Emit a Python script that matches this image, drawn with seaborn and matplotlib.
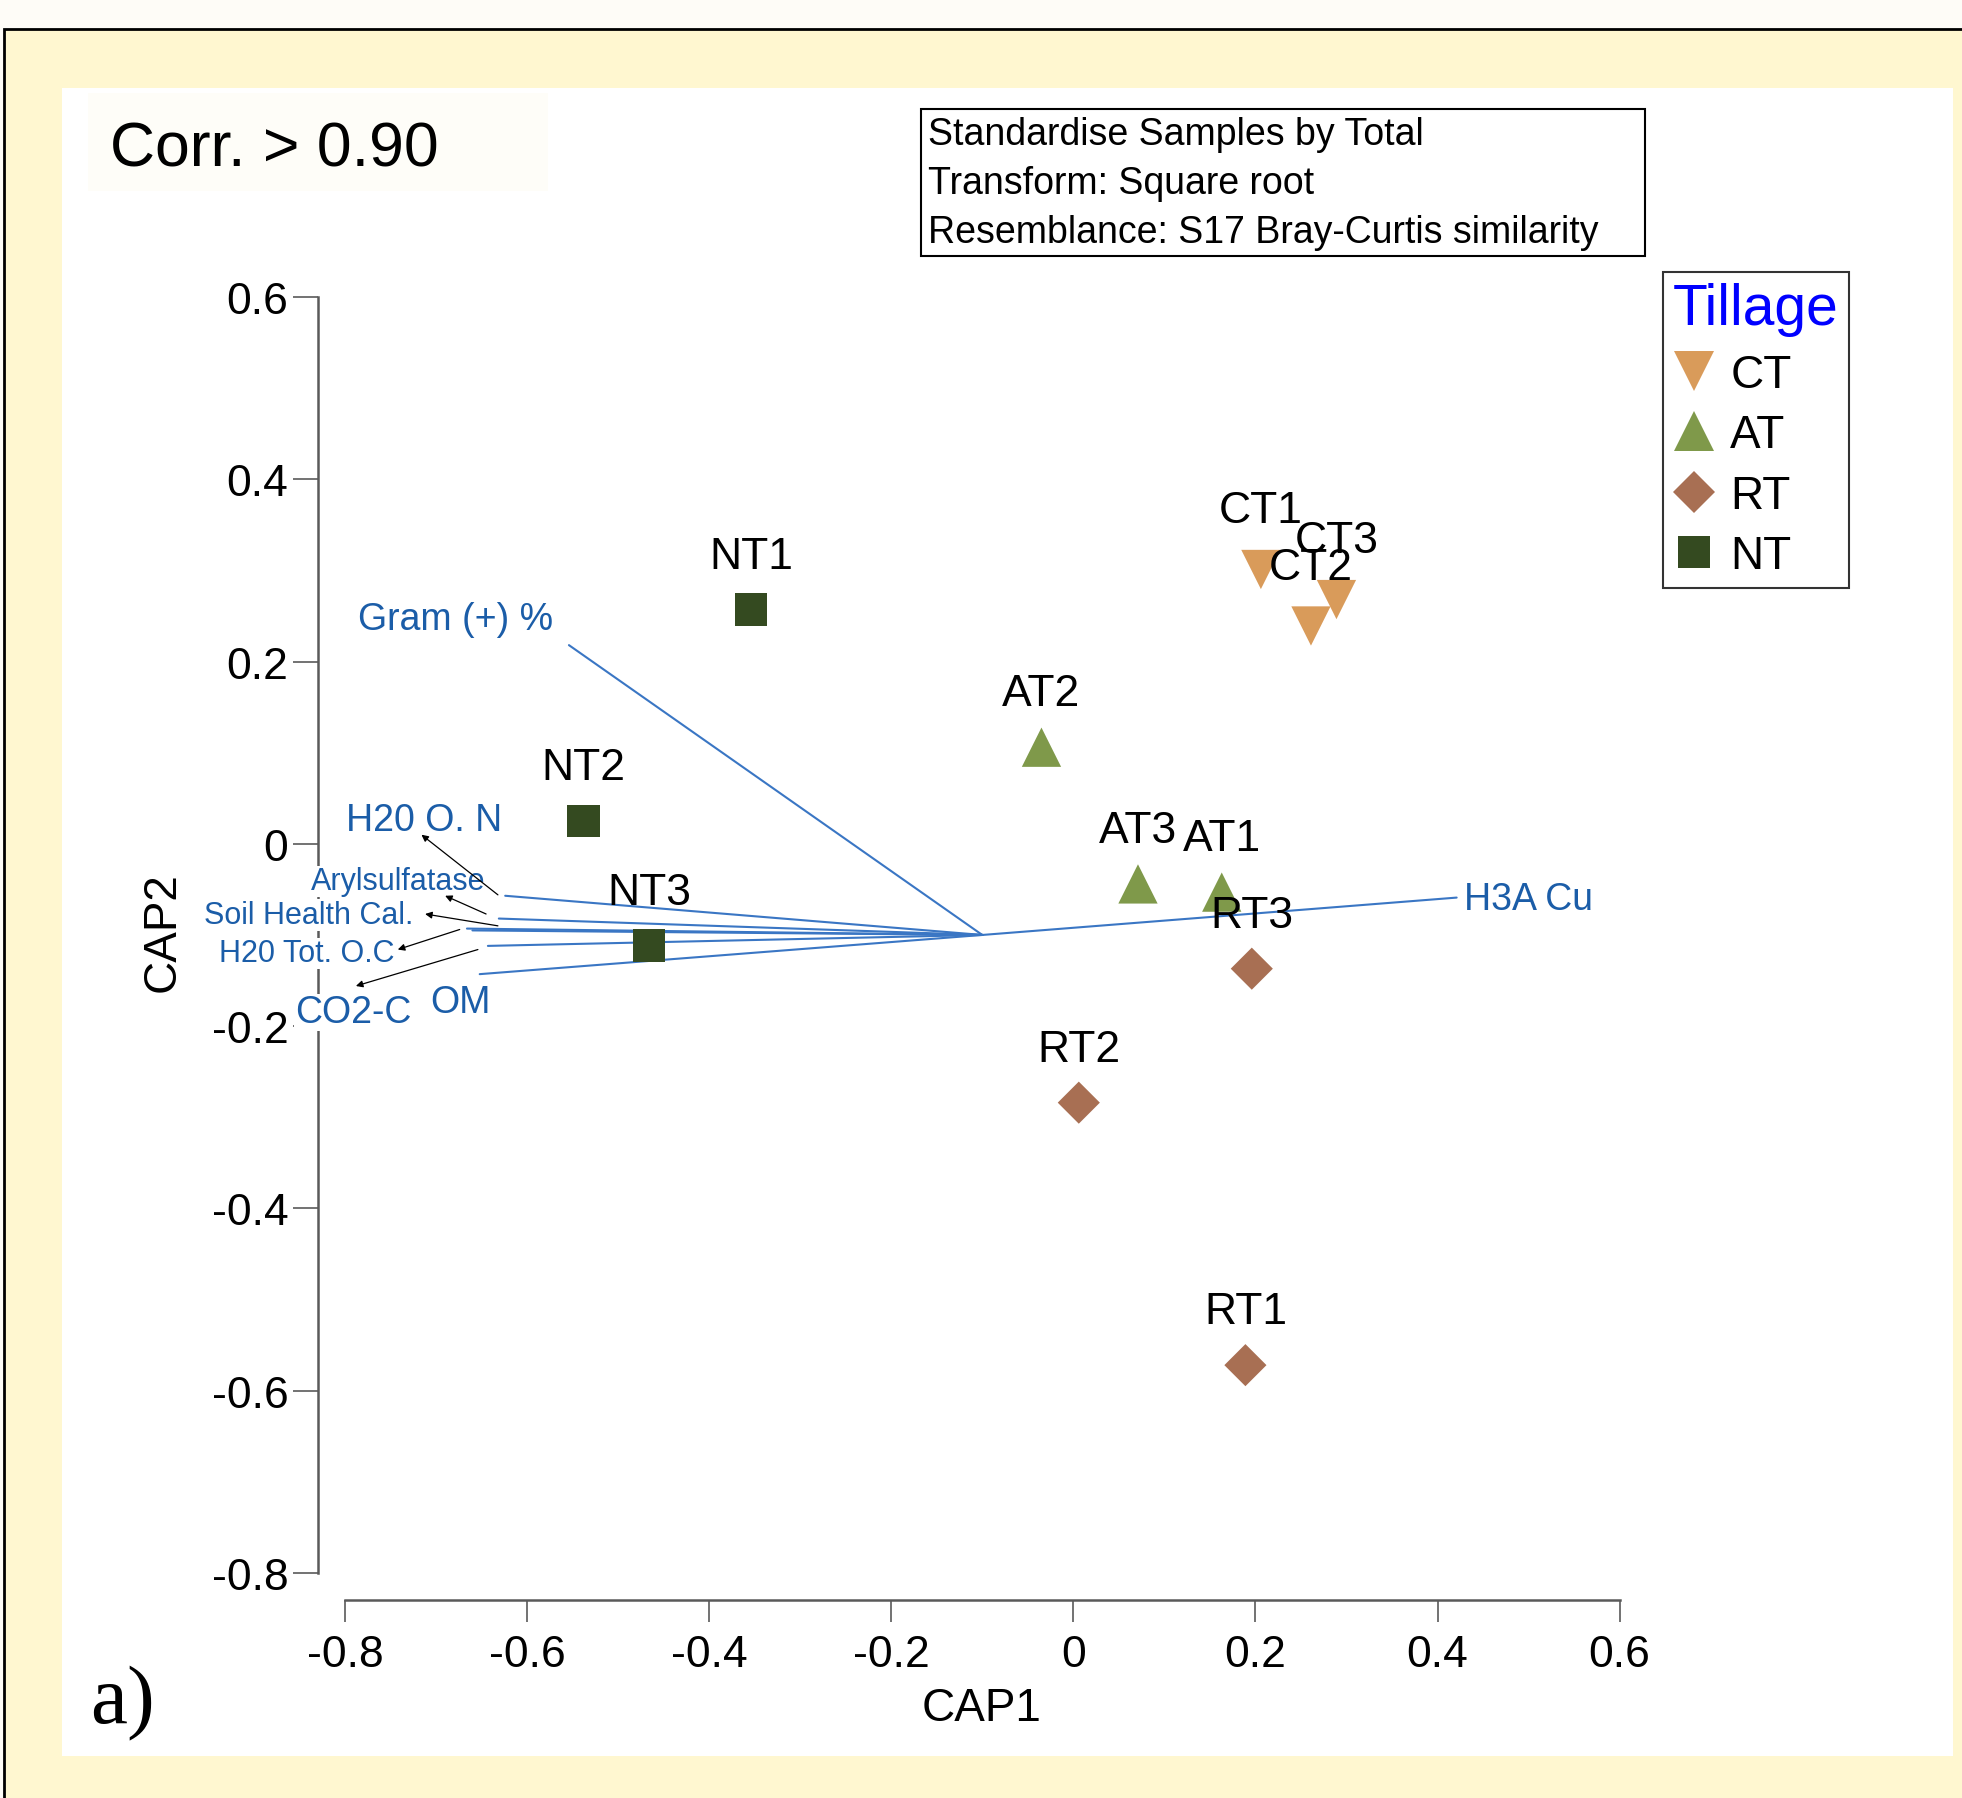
"""
CAP ordination plot (Tillage) - seaborn recreation.
"""

import matplotlib

matplotlib.use("Agg")
import matplotlib.pyplot as plt  # 绘图
import seaborn as sns
import pandas as pd
from matplotlib.patches import Rectangle

# ---- data ----
sample_names = ["CT1", "CT2", "CT3", "AT1", "AT2", "AT3", "RT1", "RT2", "RT3", "NT1", "NT2", "NT3"]
sample_group = ["CT", "CT", "CT", "AT", "AT", "AT", "RT", "RT", "RT", "NT", "NT", "NT"]
cap1 = [0.206, 0.261, 0.289, 0.163, -0.035, 0.071, 0.189, 0.006, 0.196, -0.354, -0.538, -0.466]
cap2 = [0.301, 0.239, 0.268, -0.053, 0.106, -0.044, -0.572, -0.284, -0.137, 0.257, 0.025, -0.112]

group_order = ["CT", "AT", "RT", "NT"]

vector_names = ["Gram (+) %", "H3A Cu", "H20 O. N", "Arylsulfatase", "Soil Health Cal.",
                "H20 Tot. O.C", "CO2-C", "OM"]
vector_x = [-0.554, 0.421, -0.624, -0.631, -0.666, -0.660, -0.643, -0.652]
vector_y = [0.218, -0.059, -0.057, -0.082, -0.093, -0.095, -0.112, -0.143]
vector_origin = (-0.1, -0.1)

x_ticks = [-0.8, -0.6, -0.4, -0.2, 0, 0.2, 0.4, 0.6]
x_ticklabels = ["-0.8", "-0.6", "-0.4", "-0.2", "0", "0.2", "0.4", "0.6"]
y_ticks = [0.6, 0.4, 0.2, 0, -0.2, -0.4, -0.6, -0.8]
y_ticklabels = ["0.6", "0.4", "0.2", "0", "-0.2", "-0.4", "-0.6", "-0.8"]

info_lines = ["Standardise Samples by Total", "Transform: Square root",
              "Resemblance: S17 Bray-Curtis similarity"]

# ---- style ----
palette = {"CT": "#D99B5A", "AT": "#7F994A", "RT": "#A86F53", "NT": "#344A20"}
markers = {"CT": "v", "AT": "^", "RT": "D", "NT": "s"}
sizes = {"CT": 800, "AT": 800, "RT": 460, "NT": 560}

# vector label placement (data coords)
vec_label_pos = {
    "Gram (+) %": (-0.679, 0.247),
    "H3A Cu": (0.500, -0.061),
    "H20 O. N": (-0.713, 0.026),
    "Arylsulfatase": (-0.742, -0.041),
    "Soil Health Cal.": (-0.840, -0.078),
    "H20 Tot. O.C": (-0.842, -0.120),
    "CO2-C": (-0.791, -0.185),
    "OM": (-0.673, -0.174),
}
small_labels = ["Arylsulfatase", "Soil Health Cal.", "H20 Tot. O.C"]
arrows = {
    "H20 O. N": ((-0.632, -0.056), (-0.716, 0.010)),
    "Arylsulfatase": ((-0.645, -0.077), (-0.690, -0.057)),
    "Soil Health Cal.": ((-0.632, -0.090), (-0.712, -0.077)),
    "H20 Tot. O.C": ((-0.674, -0.094), (-0.742, -0.116)),
    "CO2-C": ((-0.654, -0.116), (-0.788, -0.156)),
}

sns.set_style("white")
plt.rcParams["font.family"] = ["Liberation Sans", "DejaVu Sans"]
plt.rcParams["text.color"] = "black"
plt.rcParams["xtick.labelcolor"] = "black"
plt.rcParams["ytick.labelcolor"] = "black"

df = pd.DataFrame({"name": sample_names, "Tillage": sample_group, "CAP1": cap1, "CAP2": cap2})

fig = plt.figure(figsize=(19.62, 17.99), dpi=100)
fig.patch.set_facecolor("#FEFCF7")

# 背景：黄色外框 + 白色面板
fig.add_artist(Rectangle((4 / 1962, -0.05), 1.1, 1 - 30 / 1799 + 0.05, transform=fig.transFigure,
                         facecolor="#FFF7D0", edgecolor="black", lw=2, zorder=-10))
fig.add_artist(Rectangle((62 / 1962, 1 - 1757 / 1799), (1953 - 62) / 1962, (1757 - 89) / 1799,
                         transform=fig.transFigure, facecolor="white", edgecolor="none", zorder=-9))
fig.add_artist(Rectangle((88 / 1962, 1 - 192 / 1799), 460 / 1962, 98 / 1799,
                         transform=fig.transFigure, facecolor="#FEFDF8", edgecolor="none", zorder=-8))

ax = fig.add_axes([0.1619, 0.1099, 0.7332, 0.7498])
ax.set_facecolor("none")

# vectors
lab_color = "#1B5DA8"
for name, vx, vy in zip(vector_names, vector_x, vector_y):
    ax.plot([vector_origin[0], vx], [vector_origin[1], vy], color="#3A76C4", lw=1.5, zorder=2)

sns.scatterplot(data=df, x="CAP1", y="CAP2", hue="Tillage", style="Tillage", size="Tillage",
                hue_order=group_order, style_order=group_order, size_order=group_order,
                palette=palette, markers=markers, sizes=sizes, linewidth=0, alpha=1,
                ax=ax, zorder=3)

for name, x, y, g in zip(sample_names, cap1, cap2, sample_group):
    off = 0.052 if g == "CT" else 0.046
    ax.text(x, y + off, name, ha="center", va="baseline", fontsize=32, color="black", zorder=4)

for name in vector_names:
    px, py = vec_label_pos[name]
    small = name in small_labels
    ax.text(px, py, name, ha="center", va="center", fontsize=22 if small else 27,
            color=lab_color, zorder=5, clip_on=False,
            bbox=dict(facecolor="white", edgecolor="none", pad=0.5) if name in small_labels + ["CO2-C"] else None)

for name, (start, end) in arrows.items():
    ax.annotate("", xy=end, xytext=start,
                arrowprops=dict(arrowstyle="-|>", color="black", lw=0.9, mutation_scale=10,
                                shrinkA=0, shrinkB=0), zorder=6)

# axes
ax.set_xlim(-0.83, 0.75)
ax.set_ylim(-0.83, 0.65)
ax.set_xlabel("")
ax.set_ylabel("")
ax.set_xticks(x_ticks)
ax.set_xticklabels(x_ticklabels)
ax.set_yticks(y_ticks)
ax.set_yticklabels(y_ticklabels)
for s in ["top", "right"]:
    ax.spines[s].set_visible(False)
for s in ["left", "bottom"]:
    ax.spines[s].set_bounds(-0.8, 0.6)
    ax.spines[s].set_color("#5A5A5A")
    ax.spines[s].set_linewidth(1.8)
ax.tick_params(axis="x", direction="out", length=16, width=1.2, color="#5A5A5A",
               labelsize=32, labelcolor="black", pad=8, bottom=True)
ax.tick_params(axis="y", direction="out", length=18, width=1.2, color="#5A5A5A",
               labelsize=32, labelcolor="black", pad=3, left=True)

fig.text(0.5005, 0.05, "CAP1", ha="center", va="center", fontsize=33, color="black")
fig.text(0.0830, 0.482, "CAP2", ha="center", va="center", rotation=90, fontsize=33, color="black")

# legend
sns.move_legend(ax, "upper left", bbox_to_anchor=(0.8476, 0.8482), bbox_transform=fig.transFigure,
                title="Tillage", title_fontsize=41, fontsize=33, frameon=True, fancybox=False,
                edgecolor="black", labelspacing=0.36, handletextpad=0.35, borderpad=0.22,
                borderaxespad=0, handlelength=0.9)
leg = ax.get_legend()
leg.get_title().set_color("#0000FF")
leg._legend_box.align = "left"
leg.get_frame().set_linewidth(1.5)
for t in leg.get_texts():
    t.set_color("black")

# header texts
fig.text(110 / 1962, 1 - 150 / 1799, "Corr. > 0.90", ha="left", va="center", fontsize=45, color="black")
fig.add_artist(Rectangle((921 / 1962, 1 - 257 / 1799), 724 / 1962, 147 / 1799, transform=fig.transFigure,
                         facecolor="white", edgecolor="black", lw=1.5))
for i, line in enumerate(info_lines):
    fig.text(928 / 1962, 1 - (135 + 49 * i) / 1799, line, ha="left", va="center", fontsize=27,
             color="black")

fig.text(90 / 1962, 1 - 1704 / 1799, "a)", ha="left", va="center", fontsize=60, color="black",
         family=["Liberation Serif", "DejaVu Serif"])

fig.savefig("out.png", dpi=100, facecolor=fig.get_facecolor())
